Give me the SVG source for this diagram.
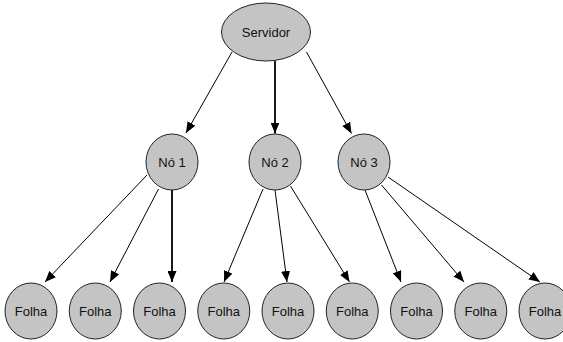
<svg xmlns="http://www.w3.org/2000/svg" width="563" height="342" viewBox="0 0 563 342">
<defs>
<style>
.n{fill:#c4c4c4;stroke:#222;stroke-width:1}
.t{font-family:"Liberation Sans",Arial,sans-serif;font-size:13px;fill:#111;text-anchor:middle;dominant-baseline:central}
.e{stroke:#000;stroke-width:1;fill:none;marker-end:url(#a)}
.v{stroke-width:1.8}
</style>
<marker id="a" markerUnits="userSpaceOnUse" markerWidth="11" markerHeight="9" refX="11" refY="4.5" orient="auto">
<path d="M0,0 L11,4.5 L0,9 z" fill="#000"/>
</marker>
</defs>
<rect width="563" height="342" fill="#fff"/>
<g id="edges">
<line class="e" x1="232" y1="52" x2="186" y2="133"/>
<line class="e v" x1="275" y1="61" x2="275" y2="133.5"/>
<line class="e" x1="306.5" y1="52" x2="351.5" y2="133.5"/>
<line class="e" x1="147" y1="175" x2="45" y2="282"/>
<line class="e" x1="158.5" y1="189" x2="110" y2="282"/>
<line class="e v" x1="172" y1="189" x2="172" y2="282"/>
<line class="e" x1="263" y1="189" x2="224" y2="282"/>
<line class="e" x1="275" y1="190" x2="287" y2="282"/>
<line class="e" x1="290.5" y1="186" x2="349.5" y2="282"/>
<line class="e" x1="365" y1="190" x2="401" y2="282"/>
<line class="e" x1="381.5" y1="185" x2="464" y2="282"/>
<line class="e" x1="388" y1="177" x2="540" y2="282"/>
</g>
<g id="servidor"><ellipse class="n" cx="266" cy="32" rx="44.5" ry="29"/><text class="t" x="266" y="32">Servidor</text></g>
<g id="no1"><ellipse class="n" cx="172" cy="162" rx="26" ry="28"/><text class="t" x="172" y="162">Nó 1</text></g>
<g id="no2"><ellipse class="n" cx="275" cy="162" rx="26" ry="28"/><text class="t" x="275" y="162">Nó 2</text></g>
<g id="no3"><ellipse class="n" cx="364" cy="162" rx="26" ry="28"/><text class="t" x="364" y="162">Nó 3</text></g>
<g id="folha1"><ellipse class="n" cx="31" cy="311" rx="26" ry="28"/><text class="t" x="31" y="311">Folha</text></g>
<g id="folha2"><ellipse class="n" cx="95.25" cy="311" rx="26" ry="28"/><text class="t" x="95.25" y="311">Folha</text></g>
<g id="folha3"><ellipse class="n" cx="159.5" cy="311" rx="26" ry="28"/><text class="t" x="159.5" y="311">Folha</text></g>
<g id="folha4"><ellipse class="n" cx="223.75" cy="311" rx="26" ry="28"/><text class="t" x="223.75" y="311">Folha</text></g>
<g id="folha5"><ellipse class="n" cx="288" cy="311" rx="26" ry="28"/><text class="t" x="288" y="311">Folha</text></g>
<g id="folha6"><ellipse class="n" cx="352.25" cy="311" rx="26" ry="28"/><text class="t" x="352.25" y="311">Folha</text></g>
<g id="folha7"><ellipse class="n" cx="416.5" cy="311" rx="26" ry="28"/><text class="t" x="416.5" y="311">Folha</text></g>
<g id="folha8"><ellipse class="n" cx="480.75" cy="311" rx="26" ry="28"/><text class="t" x="480.75" y="311">Folha</text></g>
<g id="folha9"><ellipse class="n" cx="545" cy="311" rx="26" ry="28"/><text class="t" x="545" y="311">Folha</text></g>
</svg>
